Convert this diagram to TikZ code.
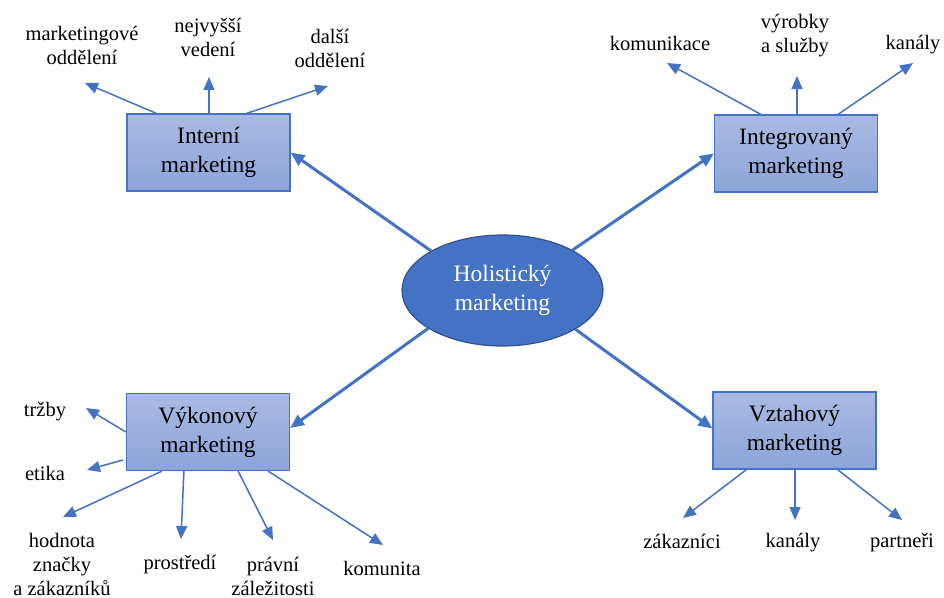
\documentclass[tikz,border=0pt]{standalone}
\usepackage{fontspec}
\setmainfont{Liberation Serif}
\usetikzlibrary{arrows.meta,shapes.geometric,calc}
\definecolor{accent}{HTML}{4472C4}
\definecolor{accentdark}{HTML}{2F528F}
\definecolor{boxtop}{HTML}{AABAE2}
\definecolor{boxbot}{HTML}{8DA4D9}
\tikzset{
  mainbox/.style={draw=accent, line width=1.2pt, top color=boxtop, bottom color=boxbot,
    minimum width=163pt, minimum height=77pt, inner sep=0pt, align=center,
    font=\fontsize{23.5}{29}\selectfont},
  hub/.style={ellipse, draw=accentdark, line width=1.2pt, fill=accent, text=white,
    minimum width=201pt, minimum height=111pt, inner sep=0pt, align=center,
    font=\fontsize{23.5}{29}\selectfont},
  lbl/.style={align=center, inner sep=0pt, font=\fontsize{20.5}{24}\selectfont},
  bigarrow/.style={draw=accent, line width=3pt, -{Triangle[length=14pt,width=12pt]}},
  thinarrow/.style={draw=accent, line width=1.5pt, -{Triangle[length=13pt,width=11pt]}},
}
\begin{document}
\begin{tikzpicture}[x=1pt,y=-1pt]
\useasboundingbox (0,0) rectangle (944,597);

\node[hub] (ell) at (502.5,290.5) {Holistický\\marketing};
\node[mainbox] (intb) at (208.5,152.5) {Interní\\marketing};
\node[mainbox] (integ) at (796,153.5) {Integrovaný\\marketing};
\node[mainbox] (vyk) at (208,432) {Výkonový\\marketing};
\node[mainbox] (vzt) at (794.5,430.5) {Vztahový\\marketing};

% main arrows
\draw[bigarrow] (ell.151) -- (intb.east);
\draw[bigarrow] (ell.30) -- (integ.west);
\draw[bigarrow] (ell.207) -- ([yshift=4pt]vyk.east);
\draw[bigarrow] (ell.332) -- ([yshift=2pt]vzt.west);

% labels
\node[lbl] (l1) at (82,45) {marketingové\\oddělení};
\node[lbl] (l2) at (208,37) {nejvyšší\\vedení};
\node[lbl] (l3) at (330,48) {další\\oddělení};
\node[lbl] (l4) at (660,43) {komunikace};
\node[lbl] (l5) at (795,36) {výrobky\\a služby};
\node[lbl] (l6) at (913,45) {kanály};
\node[lbl] (l7) at (45,412) {tržby};
\node[lbl] (l8) at (45,473) {etika};
\node[lbl] (l9) at (62,564) {hodnota\\značky\\a zákazníků};
\node[lbl] (l10) at (180,565) {prostředí};
\node[lbl] (l11) at (273,576) {právní\\záležitosti};
\node[lbl] (l12) at (382,568) {komunita};
\node[lbl] (l13) at (682,541) {zákazníci};
\node[lbl] (l14) at (793,543) {kanály};
\node[lbl] (l15) at (902,543) {partneři};

% arrow tips (free ends)
\coordinate (t1) at (85,83);
\coordinate (t2) at (209,77);
\coordinate (t3) at (328,86);
\coordinate (t4) at (667,63);
\coordinate (t5) at (797,76);
\coordinate (t6) at (913,63);
\coordinate (t7) at (86,408);
\coordinate (t8) at (87,470);
\coordinate (t9) at (63,517);
\coordinate (t10) at (181,539);
\coordinate (t11) at (273,540);
\coordinate (t12) at (383,545);
\coordinate (t13) at (683,518);
\coordinate (t14) at (795,520);
\coordinate (t15) at (902,520);

% sub arrows
\draw[thinarrow] ([xshift=30pt]intb.north west) -- (t1);
\draw[thinarrow] ([xshift=0.5pt]intb.north) -- (t2);
\draw[thinarrow] ([xshift=-44pt]intb.north east) -- (t3);
\draw[thinarrow] ([xshift=47pt]integ.north west) -- (t4);
\draw[thinarrow] ([xshift=1pt]integ.north) -- (t5);
\draw[thinarrow] ([xshift=-40pt]integ.north east) -- (t6);
\draw[thinarrow] (vyk.west) -- (t7);
\draw[thinarrow] ([xshift=-3pt,yshift=-28pt]vyk.west) -- (t8);
\draw[thinarrow] ([xshift=36pt]vyk.south west) -- (t9);
\draw[thinarrow] ([xshift=58pt]vyk.south west) -- (t10);
\draw[thinarrow] ([xshift=-52pt]vyk.south east) -- (t11);
\draw[thinarrow] ([xshift=-22pt]vyk.south east) -- (t12);
\draw[thinarrow] ([xshift=34pt]vzt.south west) -- (t13);
\draw[thinarrow] ([xshift=0.5pt]vzt.south) -- (t14);
\draw[thinarrow] ([xshift=-39pt]vzt.south east) -- (t15);
\end{tikzpicture}
\end{document}
